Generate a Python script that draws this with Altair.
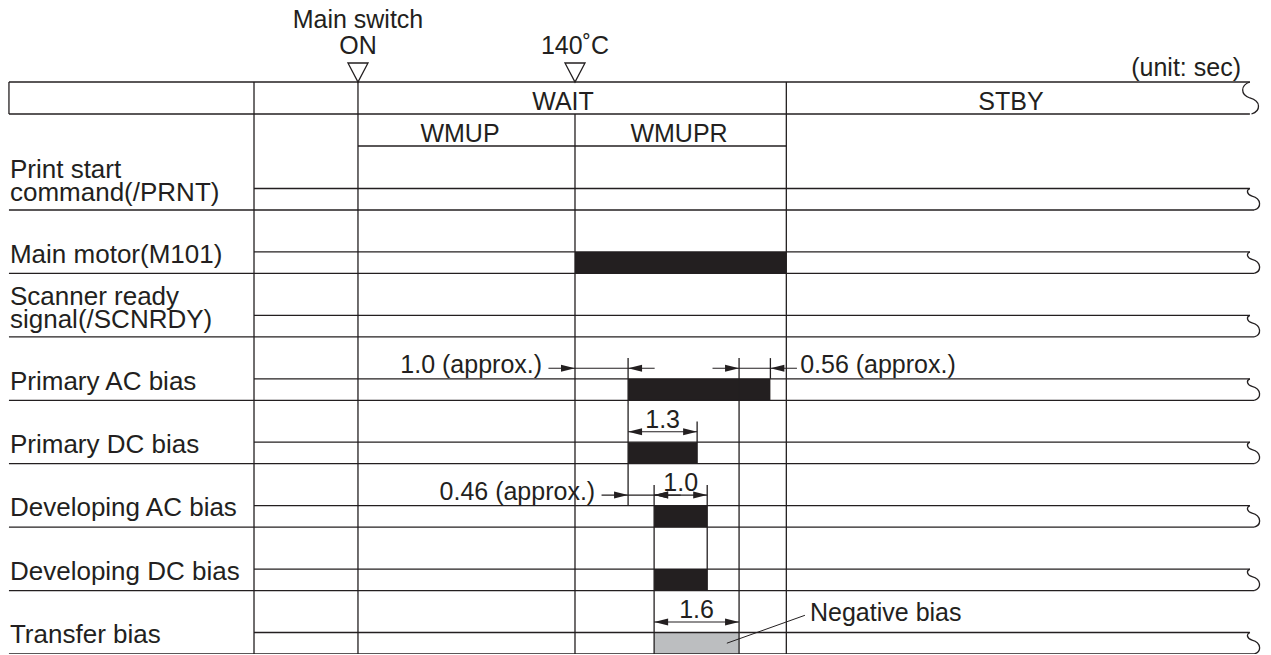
import altair as alt
import pandas as pd

INK = "#231f20"
GREY = "#bcbec0"
FONT = "Liberation Sans"

# ---------------- data ----------------
# signal rows (top to bottom)
row_line1 = ["Print start", "Main motor(M101)", "Scanner ready", "Primary AC bias",
             "Primary DC bias", "Developing AC bias", "Developing DC bias", "Transfer bias"]
row_line2 = ["command(/PRNT)", "", "signal(/SCNRDY)", "", "", "", "", ""]
# ON periods in seconds, measured from the 140˚C point
on_start = [None, 0.0, None, 1.0, 1.0, 1.49, 1.49, 1.49]
on_end = [None, 3.98, None, 3.68, 2.30, 2.49, 2.49, 3.09]
on_kind = ["", "on", "", "on", "on", "on", "on", "negative"]

# sequence phases
phase_names = ["WAIT", "STBY"]
sub_names = ["WMUP", "WMUPR"]
event_names = ["Main switch", "ON", "140˚C"]

# dimension annotations: row, from, to, label, label placement
dim_row = [3, 3, 4, 5, 5, 7]
dim_from = [0.0, 3.09, 1.0, 1.0, 1.49, 1.49]
dim_to = [1.0, 3.68, 2.30, 1.49, 2.49, 3.09]
dim_label = ["1.0 (approx.)", "0.56 (approx.)", "1.3", "0.46 (approx.)", "1.0", "1.6"]
dim_place = ["left", "right", "above", "left", "above", "above"]

# extension lines: time, row whose dimension they start at, lower end (row units)
ext_t = [1.0, 1.49, 2.49, 3.09, 3.68, 2.30]
ext_row = [3, 5, 5, 3, 3, 4]
ext_end = [4.661, 7.0, 6.0, 7.0, 2.661, 4.0]

callout_text = "Negative bias"
unit_text = "(unit: sec)"

# ---------------- layout (time axis positions of untimed parts) ----------------
T_LEFT, T_LABEL, T_ON, T_140, T_END, T_RIGHT = -10.66, -6.045, -4.087, 0.0, 3.98, 12.71
HDR_TOP, HDR_BOT, SUB_BOT, BAND = -2.018, -1.5135, -1.009, 0.339
N = len(row_line1)

xs = alt.Scale(domain=[-10.678, 12.957], nice=False, zero=False)
ys = alt.Scale(domain=[-3.1846, 7.0], reverse=True, nice=False, zero=False)


def X(f):
    return alt.X(f, type="quantitative", scale=xs, axis=None)


def Y(f):
    return alt.Y(f, type="quantitative", scale=ys, axis=None)


# horizontal lines
hl = [(T_LEFT, T_RIGHT, HDR_TOP), (T_LEFT, T_RIGHT, HDR_BOT), (T_ON, T_END, SUB_BOT)]
for k in range(N):
    hl.append((T_LABEL, T_RIGHT, k - BAND))
    hl.append((T_LEFT, T_RIGHT + 0.08, k))
hdf = pd.DataFrame(hl, columns=["x1", "x2", "y"])

# vertical lines
vl = [(T_LEFT, HDR_TOP, HDR_BOT), (T_LABEL, HDR_TOP, N - 1.0), (T_ON, HDR_TOP, N - 1.0),
      (T_140, HDR_BOT, N - 1.0), (T_END, HDR_TOP, N - 1.0)]
for t, r, e in zip(ext_t, ext_row, ext_end):
    vl.append((t, r - BAND - 0.166 - 0.16, e))
vdf = pd.DataFrame(vl, columns=["x", "y1", "y2"])

# bars
bars = [(s, e, k - BAND, k, kind) for k, (s, e, kind) in enumerate(zip(on_start, on_end, on_kind)) if s is not None]
bdf = pd.DataFrame(bars, columns=["x1", "x2", "y1", "y2", "kind"])

# dimension lines / arrowheads / labels
dl, heads_r, heads_l, dim_txt_c, dim_txt_l, dim_txt_r = [], [], [], [], [], []
for r, a, b, lab, pl in zip(dim_row, dim_from, dim_to, dim_label, dim_place):
    yy = r - BAND - 0.166
    if pl == "above":
        dl.append((a, b, yy))
        heads_l.append((a, yy))
        heads_r.append((b, yy))
        dim_txt_c.append(((a + b) / 2, yy - 0.06, lab))
    else:
        dl.append((a - 0.5, b + 0.5, yy))
        heads_r.append((a, yy))
        heads_l.append((b, yy))
        if pl == "left":
            dim_txt_r.append((a - 0.62, yy + 0.075, lab))
        else:
            dim_txt_l.append((b + 0.56, yy + 0.075, lab))
dldf = pd.DataFrame(dl, columns=["x1", "x2", "y"])
hrdf = pd.DataFrame(heads_r, columns=["x", "y"])
hldf = pd.DataFrame(heads_l, columns=["x", "y"])

# break marks at the right end
sq_hdr = pd.DataFrame({"x": [T_RIGHT], "y": [(HDR_TOP + HDR_BOT) / 2]})
sq_rows = pd.DataFrame({"x": [T_RIGHT] * N, "y": [k - BAND / 2 for k in range(N)]})

# event triangles
tri = pd.DataFrame({"x": [T_ON, T_140], "y": [-2.168, -2.168]})

# texts
txt_c = [(event_names[0], T_ON, -2.869), (event_names[1], T_ON, -2.467), (event_names[2], T_140, -2.467),
         (phase_names[0], -0.226, -1.5765), (phase_names[1], 8.211, -1.5765),
         (sub_names[0], -2.166, -1.072), (sub_names[1], 1.959, -1.072)]
tcdf = pd.DataFrame(txt_c, columns=["t", "x", "y"])
dcdf = pd.DataFrame(dim_txt_c, columns=["x", "y", "t"])
drdf = pd.DataFrame(dim_txt_r, columns=["x", "y", "t"])
dldf2 = pd.DataFrame(dim_txt_l + [(4.426, 6.48, callout_text)], columns=["x", "y", "t"])
unit_df = pd.DataFrame({"x": [12.542], "y": [-2.113], "t": [unit_text]})

lab = []
for k, (l1, l2) in enumerate(zip(row_line1, row_line2)):
    if l2:
        lab.append((T_LEFT, k - 0.505, l1))
        lab.append((T_LEFT, k - 0.145, l2))
    else:
        lab.append((T_LEFT, k - 0.168, l1))
labdf = pd.DataFrame(lab, columns=["x", "y", "t"])

leader = pd.DataFrame({"x1": [2.86], "y1": [6.83], "x2": [4.33], "y2": [6.39]})

SW = 1.3
ARROW_R = "M 0 0 L -1 -0.25 L -1 0.25 Z"
ARROW_L = "M 0 0 L 1 -0.25 L 1 0.25 Z"
BREAK_HDR = "M 0 -1 C -0.6 -0.8 -0.6 -0.2 0 0 C 0.7 0.2 0.7 0.8 0.1 1"
BREAK_ROW = "M 0 -1 C -0.35 -0.85 -0.3 -0.45 0.2 -0.3 C 1.1 -0.05 1.1 0.8 0.4 1"

layers = [
    alt.Chart(bdf).mark_rect(stroke=None).encode(
        x=X("x1"), x2="x2", y=Y("y1"), y2="y2",
        color=alt.Color("kind:N", scale=alt.Scale(domain=["on", "negative"], range=[INK, GREY]), legend=None)),
    alt.Chart(hdf).mark_rule(color=INK, strokeWidth=SW).encode(x=X("x1"), x2="x2", y=Y("y")),
    alt.Chart(vdf).mark_rule(color=INK, strokeWidth=SW).encode(x=X("x"), y=Y("y1"), y2="y2"),
    alt.Chart(dldf).mark_rule(color=INK, strokeWidth=1.1).encode(x=X("x1"), x2="x2", y=Y("y")),
    alt.Chart(leader).mark_rule(color=INK, strokeWidth=1.0).encode(x=X("x1"), y=Y("y1"), x2="x2", y2="y2"),
    alt.Chart(hrdf).mark_point(shape=ARROW_R, filled=True, size=784, color=INK,
                               opacity=1, strokeWidth=0).encode(x=X("x"), y=Y("y")),
    alt.Chart(hldf).mark_point(shape=ARROW_L, filled=True, size=784, color=INK,
                               opacity=1, strokeWidth=0).encode(x=X("x"), y=Y("y")),
    alt.Chart(sq_hdr).mark_point(shape=BREAK_HDR, filled=False, color=INK, opacity=1,
                                 strokeWidth=SW, size=1024).encode(x=X("x"), y=Y("y")),
    alt.Chart(sq_rows).mark_point(shape=BREAK_ROW, filled=False, color=INK, opacity=1,
                                  strokeWidth=SW, size=462).encode(x=X("x"), y=Y("y")),
    alt.Chart(tri).mark_point(shape="M -1 -0.95 L 1 -0.95 L 0 0.95 Z", filled=False, size=400,
                              color=INK, opacity=1, strokeWidth=SW).encode(x=X("x"), y=Y("y")),
    alt.Chart(tcdf).mark_text(align="center", baseline="alphabetic", font=FONT, fontSize=25, color=INK).encode(
        x=X("x"), y=Y("y"), text="t:N"),
    alt.Chart(unit_df).mark_text(align="right", baseline="alphabetic", font=FONT, fontSize=25, color=INK).encode(
        x=X("x"), y=Y("y"), text="t:N"),
    alt.Chart(dcdf).mark_text(align="center", baseline="alphabetic", font=FONT, fontSize=25, color=INK).encode(
        x=X("x"), y=Y("y"), text="t:N"),
    alt.Chart(drdf).mark_text(align="right", baseline="alphabetic", font=FONT, fontSize=25, color=INK).encode(
        x=X("x"), y=Y("y"), text="t:N"),
    alt.Chart(dldf2).mark_text(align="left", baseline="alphabetic", font=FONT, fontSize=25, color=INK).encode(
        x=X("x"), y=Y("y"), text="t:N"),
    alt.Chart(labdf).mark_text(align="left", baseline="alphabetic", font=FONT, fontSize=26, color=INK, dx=1).encode(
        x=X("x"), y=Y("y"), text="t:N"),
]

chart = alt.layer(*layers).properties(
    width=1255, height=646, padding=0, autosize=alt.AutoSizeParams(type="none"),
    background="white",
).configure_view(stroke=None)

chart.save("out.html", embed_options={"renderer": "svg", "actions": False})
